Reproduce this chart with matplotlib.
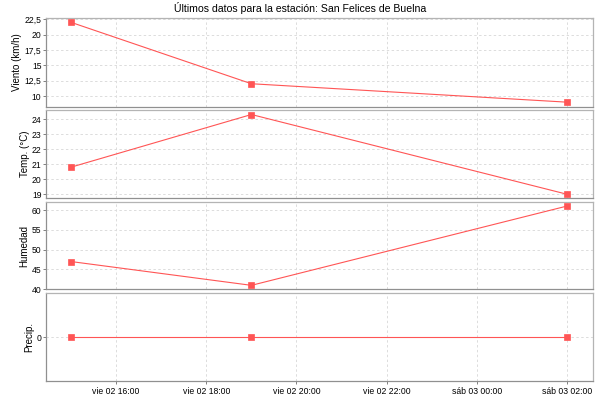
import matplotlib
matplotlib.use("Agg")
import matplotlib.pyplot as plt
import matplotlib.dates as mdates
from matplotlib.ticker import FuncFormatter, FixedLocator
from datetime import datetime

plt.rcParams['font.family'] = ['Liberation Sans', 'DejaVu Sans']

title = "Últimos datos para la estación: San Felices de Buelna"
times = [datetime(2023, 6, 2, 15, 0), datetime(2023, 6, 2, 19, 0), datetime(2023, 6, 3, 2, 0)]
viento = [22, 12, 9]
temp = [20.8, 24.3, 19.0]
humedad = [47, 41, 61]
precip = [0, 0, 0]

labels = ["Viento (km/h)", "Temp. (°C)", "Humedad", "Precip."]
series = [viento, temp, humedad, precip]
yticks = [[10, 12.5, 15, 17.5, 20, 22.5], [19, 20, 21, 22, 23, 24], [40, 45, 50, 55, 60], [0]]
ylims = [(8.26, 22.66), (18.75, 24.6), (40, 61.95), (-0.7, 0.7)]
xticks = [datetime(2023, 6, 2, 16), datetime(2023, 6, 2, 18), datetime(2023, 6, 2, 20),
          datetime(2023, 6, 2, 22), datetime(2023, 6, 3, 0), datetime(2023, 6, 3, 2)]
xlim = (datetime(2023, 6, 2, 14, 27), datetime(2023, 6, 3, 2, 34))

days = ["lun", "mar", "mié", "jue", "vie", "sáb", "dom"]

def xfmt(v, pos):
    d = mdates.num2date(v)
    return f"{days[d.weekday()]} {d.day:02d} {d.hour:02d}:{d.minute:02d}"

def yfmt(v, pos):
    return f"{v:g}".replace(".", ",")

fig = plt.figure(figsize=(6, 4), dpi=100)
W, H = 600, 400
left, right = 46.3, 592.5
panels = [(18.3, 106.7), (110.0, 198.0), (202.3, 289.3), (293.3, 381.3)]
red = "#ff5555"
axes = []
for i, (top, bot) in enumerate(panels):
    ax = fig.add_axes([left / W, 1 - bot / H, (right - left) / W, (bot - top) / H])
    ax.plot(times, series[i], color=red, lw=0.8, marker="s", ms=4.6,
            mfc=red, mec=red, mew=0.5, zorder=3)
    ax.set_xlim(*xlim)
    ax.set_ylim(*ylims[i])
    ax.yaxis.set_major_locator(FixedLocator(yticks[i]))
    ax.yaxis.set_major_formatter(FuncFormatter(yfmt))
    ax.xaxis.set_major_locator(FixedLocator(mdates.date2num(xticks)))
    ax.xaxis.set_major_formatter(FuncFormatter(xfmt))
    ax.grid(True, color="#dcdcdc", lw=0.7, ls=(0, (2.5, 2.5)))
    ax.set_axisbelow(True)
    for s in ["top", "right"]:
        ax.spines[s].set_color("#b4b4b4")
    for s in ["left", "bottom"]:
        ax.spines[s].set_color("#909090")
    for s in ax.spines.values():
        s.set_linewidth(0.9)
    ax.tick_params(axis="y", length=2, width=0.7, color="#808080", labelsize=6.2, pad=1.5)
    ax.tick_params(axis="x", length=2, width=0.7, color="#808080", labelsize=6.2, pad=2)
    ax.set_ylabel(labels[i], fontsize=7, labelpad=1.5)
    if i < 3:
        ax.tick_params(axis="x", labelbottom=False, length=0)
    axes.append(ax)

fig.text(0.5, 1 - 8.5 / H, title, ha="center", va="center", fontsize=7.6)
fig.savefig("out.png", dpi=100)
